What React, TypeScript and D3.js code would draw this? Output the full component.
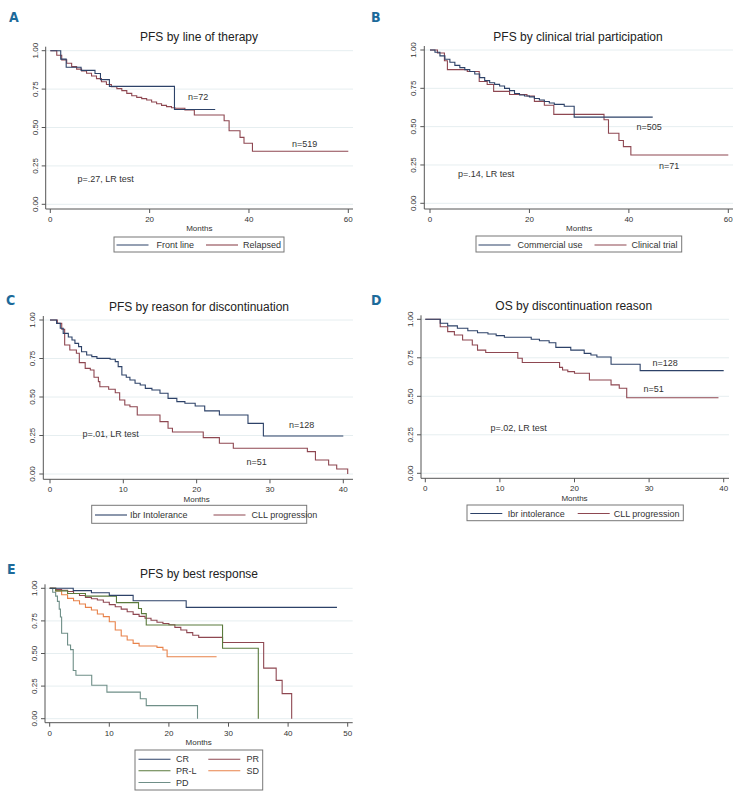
import React from 'react';
import * as d3 from 'd3';

type Pt = [number, number];

// step points: [month, survival from that month on]; last point = end of follow-up
const aFrontLine: Pt[] = [[0, 1], [2.1, 0.945], [3.2, 0.892], [6.2, 0.872], [9, 0.852], [10.1, 0.812], [11.9, 0.768], [25, 0.617], [33.2, 0.617]];
const aRelapsed: Pt[] = [[0, 1], [1.3, 0.97], [2.3, 0.94], [3.3, 0.918], [4.3, 0.896], [5.3, 0.88], [6.3, 0.868], [7.3, 0.853], [8.3, 0.835], [9.3, 0.818], [10.3, 0.798], [11.3, 0.78], [12.3, 0.766], [13.4, 0.753], [14.4, 0.74], [15.4, 0.722], [16.4, 0.707], [17.4, 0.696], [18.4, 0.688], [19.4, 0.679], [20.4, 0.666], [21.4, 0.655], [22.4, 0.644], [23.4, 0.636], [24.4, 0.629], [25.1, 0.625], [27.1, 0.614], [29, 0.581], [35, 0.544], [36, 0.479], [38.2, 0.436], [39, 0.397], [40.7, 0.345], [60, 0.345]];

const bCommercial: Pt[] = [[0, 1], [1, 0.985], [2, 0.962], [3, 0.94], [4, 0.92], [5, 0.9], [6, 0.885], [7, 0.872], [8, 0.86], [9, 0.843], [10, 0.82], [11, 0.8], [12, 0.786], [13, 0.776], [14, 0.765], [15, 0.75], [16, 0.735], [17, 0.716], [18, 0.706], [19, 0.7], [20, 0.694], [21, 0.684], [22, 0.674], [23, 0.664], [24, 0.654], [25, 0.645], [27, 0.633], [29, 0.562], [44.8, 0.562]];
const bClinical: Pt[] = [[0, 1], [1.5, 0.98], [2.9, 0.93], [3.5, 0.872], [7.5, 0.86], [9.9, 0.795], [11.5, 0.775], [12.8, 0.73], [16, 0.71], [19.5, 0.7], [21, 0.665], [23, 0.64], [24.9, 0.58], [35, 0.545], [35.9, 0.457], [38, 0.41], [38.9, 0.37], [40.4, 0.315], [60, 0.315]];

const cIntolerance: Pt[] = [[0, 1], [0.9, 0.978], [1.4, 0.946], [1.8, 0.913], [2.5, 0.89], [3, 0.87], [3.4, 0.848], [3.9, 0.827], [4.3, 0.794], [5, 0.773], [5.7, 0.762], [6.4, 0.751], [8.2, 0.745], [8.9, 0.73], [9.3, 0.697], [9.8, 0.643], [10.4, 0.628], [10.9, 0.61], [11.6, 0.589], [12.3, 0.578], [13, 0.556], [13.9, 0.545], [15, 0.524], [16.1, 0.491], [17.3, 0.47], [18.4, 0.459], [19.8, 0.442], [21.1, 0.41], [23.1, 0.383], [27, 0.329], [29.1, 0.247], [40, 0.247]];
const cProgression: Pt[] = [[0, 1], [1, 0.978], [1.6, 0.94], [2, 0.838], [2.7, 0.805], [3.6, 0.784], [4, 0.723], [4.8, 0.686], [5.5, 0.675], [6, 0.628], [6.6, 0.6], [6.8, 0.567], [8, 0.55], [8.9, 0.528], [9.5, 0.481], [10.2, 0.448], [10.9, 0.437], [11.9, 0.383], [15, 0.34], [16.1, 0.297], [16.7, 0.273], [20.9, 0.236], [23.1, 0.2], [25, 0.167], [35.1, 0.145], [36.2, 0.091], [38, 0.058], [39.1, 0.032], [40.6, 0]];

const dIntolerance: Pt[] = [[0, 1], [2, 0.974], [3, 0.957], [4.3, 0.942], [5.7, 0.926], [7, 0.913], [8.4, 0.905], [9.5, 0.894], [10.6, 0.883], [14.2, 0.87], [15.3, 0.861], [16.6, 0.848], [17.5, 0.818], [19.5, 0.8], [21.3, 0.779], [22.2, 0.768], [23, 0.755], [24.9, 0.708], [28.8, 0.667], [40, 0.667]];
const dProgression: Pt[] = [[0, 1], [2, 0.952], [3, 0.92], [3.9, 0.898], [5, 0.866], [6.3, 0.833], [7, 0.8], [8.1, 0.784], [12.4, 0.747], [13, 0.719], [18, 0.688], [18.4, 0.671], [19.1, 0.66], [20, 0.65], [22, 0.606], [24.9, 0.574], [26, 0.552], [27, 0.491], [39.3, 0.491]];

const eCR: Pt[] = [[0, 1], [3.95, 0.982], [7, 0.966], [10, 0.946], [14, 0.905], [22.9, 0.854], [48.2, 0.854]];
const ePR: Pt[] = [[0, 1], [1, 0.99], [2, 0.985], [3, 0.975], [4, 0.96], [5, 0.945], [6, 0.93], [7, 0.92], [8, 0.91], [9, 0.893], [10, 0.875], [11, 0.858], [12, 0.84], [13, 0.82], [14, 0.8], [15, 0.785], [16, 0.77], [17, 0.755], [18, 0.74], [19, 0.73], [20, 0.72], [21, 0.7], [22, 0.68], [23, 0.66], [24, 0.64], [25, 0.624], [29, 0.584], [35.9, 0.388], [38, 0.294], [39, 0.192], [40.6, 0]];
const ePRL: Pt[] = [[0, 1], [1, 0.98], [3, 0.96], [6, 0.94], [11.2, 0.89], [14.9, 0.845], [15.4, 0.806], [16.2, 0.719], [29, 0.54], [35, 0]];
const eSD: Pt[] = [[0, 1], [1, 0.98], [2, 0.95], [3, 0.923], [4, 0.905], [5, 0.88], [6, 0.854], [7, 0.834], [8, 0.803], [9, 0.783], [10, 0.744], [11, 0.68], [12, 0.634], [13, 0.604], [14, 0.578], [15, 0.557], [18, 0.547], [19, 0.527], [19.7, 0.475], [28, 0.475]];
const ePD: Pt[] = [[0, 1], [0.5, 0.97], [1, 0.94], [1.3, 0.9], [1.6, 0.84], [1.8, 0.78], [2, 0.655], [3, 0.565], [3.5, 0.53], [3.95, 0.37], [4.4, 0.333], [7.05, 0.257], [9.6, 0.204], [15.2, 0.153], [16.2, 0.1], [24.8, 0]];

const yTicks = [0, 0.25, 0.5, 0.75, 1];
const ticks60 = [0, 20, 40, 60];
const ticks40 = [0, 10, 20, 30, 40];
const ticks50 = [0, 10, 20, 30, 40, 50];

const NAVY = '#2d4268';
const MAROON = '#8e4751';
const GREEN = '#5a7a3c';
const ORANGE = '#e8824a';
const TEAL = '#6f8f88';

const FONT = "'Liberation Sans', Arial, sans-serif";
const LETTER_FONT = "'DejaVu Sans Condensed', 'Liberation Sans Narrow', 'DejaVu Sans', sans-serif";

interface Series { data: Pt[]; color: string }
interface Note { text: string; x: number; y: number }
interface LegendItem { label: string; color: string; lx: number; tx: number; y: number }
interface PanelCfg {
  letter: string; lx: number; ly: number;
  title: string; tx: number; ty: number;
  x0: number; x1: number; y0: number; y1: number;
  axisX: number; axisY: number; right: number;
  xMax: number; xTicks: number[];
  series: Series[];
  notes: Note[];
  box: [number, number, number, number];
  legend: LegendItem[];
}

function Panel({ p }: { p: PanelCfg }) {
  const x = d3.scaleLinear().domain([0, p.xMax]).range([p.x0, p.x1]);
  const y = d3.scaleLinear().domain([0, 1]).range([p.y0, p.y1]);
  const line = d3.line<Pt>().x(d => x(d[0])).y(d => y(d[1])).curve(d3.curveStepAfter);
  return (
    <g fontFamily={FONT}>
      <text x={p.lx} y={p.ly} fontFamily={LETTER_FONT} fontWeight="bold" fontSize={14} fill="#1c6a9a"
        style={{ fontStretch: 'condensed' }}>{p.letter}</text>
      <text x={p.tx} y={p.ty} textAnchor="middle" fontSize={12} fill="#222">{p.title}</text>
      {yTicks.map(v => (
        <line key={'g' + v} x1={p.axisX} x2={p.right} y1={y(v)} y2={y(v)} stroke="#e6eef0" strokeWidth={1} />
      ))}
      <line x1={p.axisX} x2={p.axisX} y1={p.y1 - 4} y2={p.axisY} stroke="#555" />
      <line x1={p.axisX} x2={p.right} y1={p.axisY} y2={p.axisY} stroke="#555" />
      {yTicks.map(v => (
        <g key={'y' + v}>
          <line x1={p.axisX - 4} x2={p.axisX} y1={y(v)} y2={y(v)} stroke="#555" />
          <text transform={`translate(${p.axisX - 11},${y(v)}) rotate(-90)`} textAnchor="middle" dy="0.35em"
            fontSize={8} fill="#333">{v.toFixed(2)}</text>
        </g>
      ))}
      {p.xTicks.map(v => (
        <g key={'x' + v}>
          <line x1={x(v)} x2={x(v)} y1={p.axisY} y2={p.axisY + 4} stroke="#555" />
          <text x={x(v)} y={p.axisY + 10} dy="0.35em" textAnchor="middle" fontSize={8} fill="#333">{v}</text>
        </g>
      ))}
      <text x={(p.x0 + p.x1) / 2} y={p.axisY + 19.5} dy="0.35em" textAnchor="middle" fontSize={8} fill="#333">Months</text>
      {p.series.map((s, i) => (
        <path key={i} d={line(s.data) || ''} fill="none" stroke={s.color} strokeWidth={1.1} />
      ))}
      {p.notes.map((n, i) => (
        <text key={i} x={n.x} y={n.y} dy="0.35em" fontSize={9} fill="#333">{n.text}</text>
      ))}
      <rect x={p.box[0]} y={p.box[1]} width={p.box[2]} height={p.box[3]} fill="#fff" stroke="#777" />
      {p.legend.map((l, i) => (
        <g key={i}>
          <line x1={l.lx} x2={l.lx + 32} y1={l.y} y2={l.y} stroke={l.color} strokeWidth={1.1} />
          <text x={l.tx} y={l.y} dy="0.35em" fontSize={9} fill="#333">{l.label}</text>
        </g>
      ))}
    </g>
  );
}

const panels: PanelCfg[] = [
  {
    letter: 'A', lx: 9, ly: 22, title: 'PFS by line of therapy', tx: 199, ty: 41,
    x0: 50.3, x1: 348.3, y0: 204.3, y1: 50.7, axisX: 45.7, axisY: 209, right: 353,
    xMax: 60, xTicks: ticks60,
    series: [{ data: aRelapsed, color: MAROON }, { data: aFrontLine, color: NAVY }],
    notes: [{ text: 'n=72', x: 188, y: 97 }, { text: 'n=519', x: 292, y: 144 }, { text: 'p=.27, LR test', x: 77.5, y: 179 }],
    box: [114, 237, 170, 15],
    legend: [
      { label: 'Front line', color: NAVY, lx: 116.5, tx: 156.5, y: 245 },
      { label: 'Relapsed', color: MAROON, lx: 206, tx: 243, y: 245 },
    ],
  },
  {
    letter: 'B', lx: 371, ly: 22, title: 'PFS by clinical trial participation', tx: 578, ty: 41,
    x0: 430, x1: 728.3, y0: 203.3, y1: 50, axisX: 424.3, axisY: 209, right: 733,
    xMax: 60, xTicks: ticks60,
    series: [{ data: bClinical, color: MAROON }, { data: bCommercial, color: NAVY }],
    notes: [{ text: 'n=505', x: 636.5, y: 127 }, { text: 'n=71', x: 659, y: 166 }, { text: 'p=.14, LR test', x: 458, y: 174 }],
    box: [476, 236, 205.7, 16],
    legend: [
      { label: 'Commercial use', color: NAVY, lx: 478.5, tx: 517.5, y: 245 },
      { label: 'Clinical trial', color: MAROON, lx: 594.5, tx: 631.5, y: 245 },
    ],
  },
  {
    letter: 'C', lx: 6, ly: 305, title: 'PFS by reason for discontinuation', tx: 199, ty: 311,
    x0: 50, x1: 343.3, y0: 474, y1: 320, axisX: 43.3, axisY: 479.3, right: 353,
    xMax: 40, xTicks: ticks40,
    series: [{ data: cProgression, color: MAROON }, { data: cIntolerance, color: NAVY }],
    notes: [{ text: 'n=128', x: 289, y: 425 }, { text: 'n=51', x: 246.5, y: 462 }, { text: 'p=.01, LR test', x: 82.5, y: 434 }],
    box: [91.7, 505.3, 215, 18],
    legend: [
      { label: 'Ibr Intolerance', color: NAVY, lx: 95, tx: 130, y: 515 },
      { label: 'CLL progression', color: MAROON, lx: 213.5, tx: 251.5, y: 515 },
    ],
  },
  {
    letter: 'D', lx: 371, ly: 305, title: 'OS by discontinuation reason', tx: 573.7, ty: 310,
    x0: 425.3, x1: 723.7, y0: 473.3, y1: 319.3, axisX: 421, axisY: 478.3, right: 729,
    xMax: 40, xTicks: ticks40,
    series: [{ data: dProgression, color: MAROON }, { data: dIntolerance, color: NAVY }],
    notes: [{ text: 'n=128', x: 652.5, y: 362.5 }, { text: 'n=51', x: 643.5, y: 388.5 }, { text: 'p=.02, LR test', x: 490.5, y: 427.5 }],
    box: [467, 505, 216.3, 15.7],
    legend: [
      { label: 'Ibr intolerance', color: NAVY, lx: 470.3, tx: 507.7, y: 513.5 },
      { label: 'CLL progression', color: MAROON, lx: 577.7, tx: 613.7, y: 513.5 },
    ],
  },
  {
    letter: 'E', lx: 7, ly: 573.5, title: 'PFS by best response', tx: 199, ty: 578,
    x0: 49.7, x1: 347.7, y0: 718.7, y1: 588.3, axisX: 45, axisY: 722.7, right: 352.7,
    xMax: 50, xTicks: ticks50,
    series: [
      { data: ePD, color: TEAL }, { data: eSD, color: ORANGE }, { data: ePR, color: MAROON },
      { data: ePRL, color: GREEN }, { data: eCR, color: NAVY },
    ],
    notes: [],
    box: [135, 750, 127.7, 40],
    legend: [
      { label: 'CR', color: NAVY, lx: 138.5, tx: 176, y: 759.3 },
      { label: 'PR', color: MAROON, lx: 208.3, tx: 246.5, y: 759.3 },
      { label: 'PR-L', color: GREEN, lx: 138.5, tx: 176, y: 770.7 },
      { label: 'SD', color: ORANGE, lx: 208.3, tx: 246.5, y: 770.7 },
      { label: 'PD', color: TEAL, lx: 138.5, tx: 176, y: 782.5 },
    ],
  },
];

export default function App() {
  return (
    <div style={{ position: 'absolute', left: 0, top: 0 }}>
      <svg width={742} height={796} style={{ display: 'block', background: '#fff' }}>
        {panels.map(p => <Panel key={p.letter} p={p} />)}
      </svg>
    </div>
  );
}
